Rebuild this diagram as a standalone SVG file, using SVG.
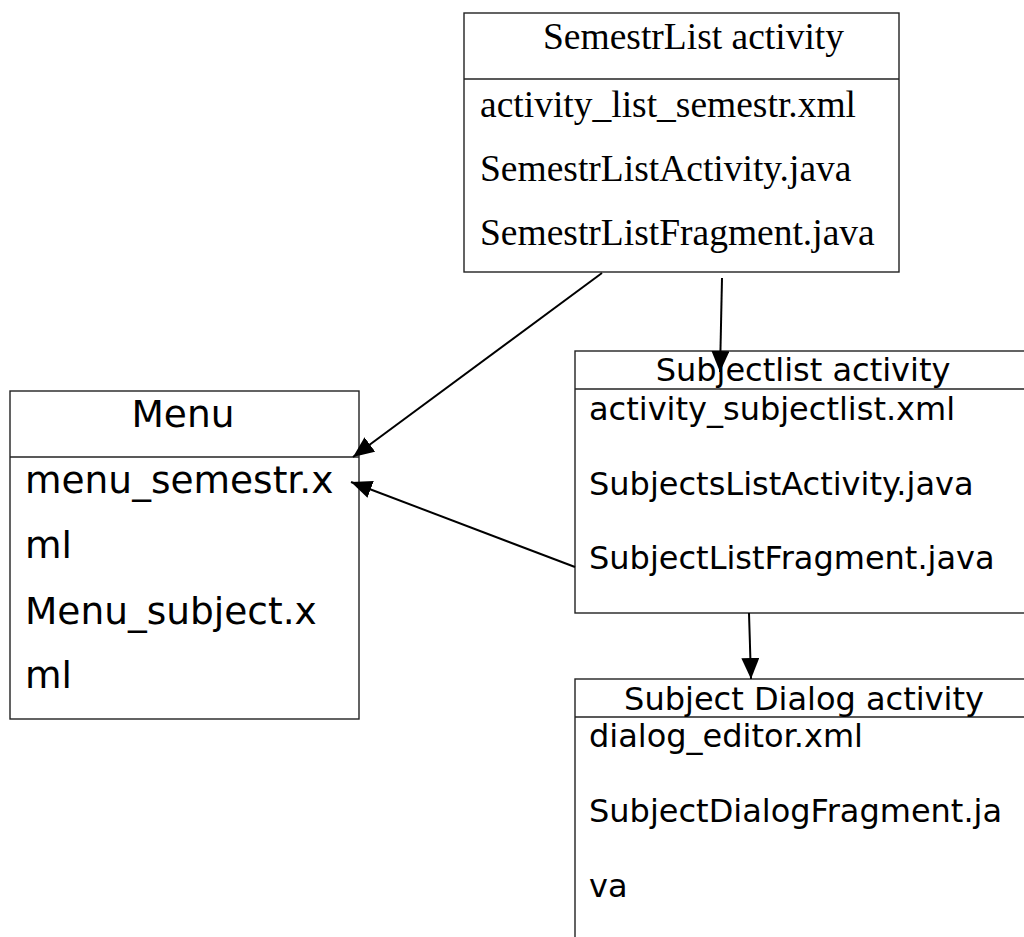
<svg xmlns="http://www.w3.org/2000/svg" width="1024" height="937" viewBox="0 0 1024 937">
<style>
.box{fill:#fff;stroke:#222;stroke-width:1.4}
.div{stroke:#222;stroke-width:1.4}
.serif{font-family:"Liberation Serif","Times New Roman",serif;font-size:37.5px;fill:#000}
.sans{font-family:"DejaVu Sans",sans-serif;font-size:32px;fill:#000}
.sansL{font-family:"DejaVu Sans",sans-serif;font-size:37.5px;fill:#000}
.conn{stroke:#000;stroke-width:2;fill:none;marker-end:url(#arr)}
</style>
<defs>
<marker id="arr" markerUnits="userSpaceOnUse" markerWidth="21" markerHeight="18" refX="21" refY="9" orient="auto">
<path d="M0,0 L21,9 L0,18 z" fill="#000"/>
</marker>
</defs>
<rect width="1024" height="937" fill="#fff"/>
<g id="semestrlist">
<rect class="box" x="464" y="13" width="435" height="259"/>
<line class="div" x1="464" y1="79" x2="899" y2="79"/>
<text class="serif" x="543" y="49">SemestrList activity</text>
<text class="serif" x="480" y="117">activity_list_semestr.xml</text>
<text class="serif" x="480" y="181">SemestrListActivity.java</text>
<text class="serif" x="480" y="245">SemestrListFragment.java</text>
</g>
<g id="menu">
<rect class="box" x="10" y="391" width="349" height="328"/>
<line class="div" x1="10" y1="457" x2="359" y2="457"/>
<text class="sansL" x="183" y="427" text-anchor="middle">Menu</text>
<text class="sansL" x="25" y="493">menu_semestr.x</text>
<text class="sansL" x="25" y="558">ml</text>
<text class="sansL" x="25" y="624">Menu_subject.x</text>
<text class="sansL" x="25" y="688">ml</text>
</g>
<g id="subjectlist">
<rect class="box" x="575" y="351" width="460" height="262"/>
<line class="div" x1="575" y1="389" x2="1035" y2="389"/>
<text class="sans" x="803" y="381" text-anchor="middle">Subjectlist activity</text>
<text class="sans" x="589" y="420">activity_subjectlist.xml</text>
<text class="sans" x="589" y="495">SubjectsListActivity.java</text>
<text class="sans" x="589" y="569">SubjectListFragment.java</text>
</g>
<g id="dialog">
<rect class="box" x="575" y="679" width="460" height="300"/>
<line class="div" x1="575" y1="717" x2="1035" y2="717"/>
<text class="sans" x="804" y="710" text-anchor="middle">Subject Dialog activity</text>
<text class="sans" x="589" y="747">dialog_editor.xml</text>
<text class="sans" x="589" y="822">SubjectDialogFragment.ja</text>
<text class="sans" x="589" y="897">va</text>
</g>
<g id="connectors">
<line class="conn" x1="602" y1="273" x2="353" y2="457"/>
<line class="conn" x1="575" y1="567" x2="351" y2="482"/>
<line class="conn" x1="722" y1="278" x2="720" y2="372"/>
<line class="conn" x1="749" y1="613" x2="751" y2="679"/>
</g>
</svg>
